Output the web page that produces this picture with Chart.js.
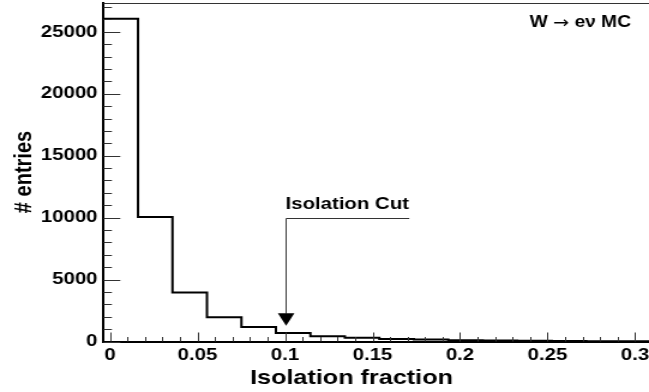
<!DOCTYPE html>
<html>
<head>
<meta charset="utf-8">
<script src="https://cdn.jsdelivr.net/npm/chart.js@4/dist/chart.umd.min.js"></script>
<style>
  html, body { margin: 0; padding: 0; background: #fff; overflow: hidden; }
</style>
</head>
<body>
<!-- the reference is stretched sideways, so draw narrow and widen the canvas -->
<canvas id="histo" width="541" height="392" style="width:649px;height:392px;display:block"></canvas>
<script>
// histogram data
const binEdges = [-0.0037, 0.0160, 0.0357, 0.0554, 0.0751, 0.0948, 0.1145, 0.1342, 0.1539,
                  0.1736, 0.1933, 0.2130, 0.2327, 0.2524, 0.2721, 0.2918, 0.3115];
const counts = [26050, 10050, 3950, 1960, 1180, 680, 430, 300, 210, 160, 110, 75, 55, 40, 30, 20];

const xTickValues = [0, 0.05, 0.1, 0.15, 0.2, 0.25, 0.3];
const xTickLabels = ["0", "0.05", "0.1", "0.15", "0.2", "0.25", "0.3"];
const yTickValues = [0, 5000, 10000, 15000, 20000, 25000];
const yTickLabels = ["0", "5000", "10000", "15000", "20000", "25000"];

const xTitle = "Isolation fraction";
const yTitle = "# entries";
const sampleLabel = ["W ", "\u2192", " e\u03bd MC"];
const cutLabel = "Isolation Cut";
const cutValue = 0.1;
const cutLineEnd = 0.171;
const cutTop = 10000;
const cutTip = 1275;

const FONT = "'Liberation Sans', Arial, Helvetica, sans-serif";

// each bin edge carries the bin content, last edge closes the last bin
const points = counts.map((c, i) => ({x: binEdges[i], y: c}));
points.push({x: binEdges[binEdges.length - 1], y: counts[counts.length - 1]});

// ROOT style: inward ticks, frame line, labels and the cut arrow
const rootStyle = {
  id: 'rootStyle',
  afterDraw(chart) {
    const ctx = chart.ctx;
    const xs = chart.scales.x, ys = chart.scales.y;
    const a = chart.chartArea;
    ctx.save();
    ctx.strokeStyle = '#333';
    ctx.lineWidth = 1;

    // top frame
    ctx.beginPath();
    ctx.moveTo(a.left, a.top + 0.5);
    ctx.lineTo(a.right, a.top + 0.5);
    ctx.stroke();

    // y ticks
    ctx.beginPath();
    for (let v = 0; v <= ys.max; v += 1000) {
      const py = Math.round(ys.getPixelForValue(v)) + 0.5;
      const len = v % 5000 === 0 ? 14 : 7;
      ctx.moveTo(a.left, py);
      ctx.lineTo(a.left + len, py);
    }
    // x ticks
    for (let k = 0; k <= 30; k++) {
      const px = Math.round(xs.getPixelForValue(k / 100)) + 0.5;
      const len = k % 5 === 0 ? 9 : 4.5;
      ctx.moveTo(px, a.bottom);
      ctx.lineTo(px, a.bottom - len);
    }
    ctx.stroke();

    // cut annotation
    const cx = Math.round(xs.getPixelForValue(cutValue)) + 0.5;
    const topY = Math.round(ys.getPixelForValue(cutTop)) + 0.5;
    const tipY = ys.getPixelForValue(cutTip);
    ctx.beginPath();
    ctx.moveTo(xs.getPixelForValue(cutLineEnd), topY);
    ctx.lineTo(cx, topY);
    ctx.lineTo(cx, tipY - 12);
    ctx.stroke();
    ctx.fillStyle = '#000';
    ctx.beginPath();
    ctx.moveTo(cx - 6.9, tipY - 12.5);
    ctx.lineTo(cx + 6.9, tipY - 12.5);
    ctx.lineTo(cx, tipY);
    ctx.closePath();
    ctx.fill();

    ctx.fillStyle = '#000';
    ctx.textBaseline = 'alphabetic';
    ctx.font = 'bold 17px ' + FONT;
    ctx.textAlign = 'left';
    ctx.fillText(cutLabel, cx - 0.5, topY - 9.5);

    // sample label, arrow in a thinner font like ROOT's symbol font
    const fonts = ['bold 16px ' + FONT, '16px "DejaVu Sans"', 'bold 16px ' + FONT];
    let total = 0;
    const widths = sampleLabel.map((s, i) => { ctx.font = fonts[i]; const w = ctx.measureText(s).width; total += w; return w; });
    let tx = 526 - total;
    sampleLabel.forEach((s, i) => {
      ctx.font = fonts[i];
      ctx.fillText(s, tx, i === 1 ? 27.5 : 26.5);
      tx += widths[i];
    });

    // axis titles
    ctx.font = 'bold 21px ' + FONT;
    ctx.textAlign = 'center';
    ctx.fillText(xTitle, 293, 384);

    ctx.save();
    ctx.translate(26, 172);
    ctx.rotate(-Math.PI / 2);
    ctx.font = 'bold 20px ' + FONT;
    ctx.fillText(yTitle, 0, 0);
    ctx.restore();

    ctx.restore();
  }
};

const histo = new Chart(document.getElementById('histo'), {
  type: 'line',
  data: {
    datasets: [{
      data: points,
      stepped: 'before',
      borderColor: '#000',
      borderWidth: 2,
      pointRadius: 0,
      fill: false
    }]
  },
  options: {
    responsive: false,
    animation: false,
    layout: {padding: {top: 3, left: 0, right: 0, bottom: 0}},
    plugins: {legend: {display: false}, tooltip: {enabled: false}},
    scales: {
      x: {
        type: 'linear',
        min: binEdges[0],
        max: 0.308,
        grid: {display: false, drawTicks: false},
        border: {display: true, color: '#000', width: 2},
        afterBuildTicks: s => { s.ticks = xTickValues.map(v => ({value: v})); },
        afterFit: s => { s.height = 50.5; s.paddingLeft = 0; s.paddingRight = 0; },
        ticks: {
          autoSkip: false, maxRotation: 0, padding: 4, color: '#000',
          font: {family: FONT, size: 17, weight: 'bold'},
          callback: (v, i) => xTickLabels[i]
        }
      },
      y: {
        min: 0,
        max: 27330,
        grid: {display: false, drawTicks: false},
        border: {display: true, color: '#000', width: 2},
        afterBuildTicks: s => { s.ticks = yTickValues.map(v => ({value: v})); },
        afterFit: s => { s.width = 86.3; s.paddingTop = 0; s.paddingBottom = 0; },
        ticks: {
          autoSkip: false, padding: 5, color: '#000',
          font: {family: FONT, size: 17, weight: 'bold'},
          callback: (v, i) => yTickLabels[i]
        }
      }
    }
  },
  plugins: [rootStyle]
});
</script>
</body>
</html>
